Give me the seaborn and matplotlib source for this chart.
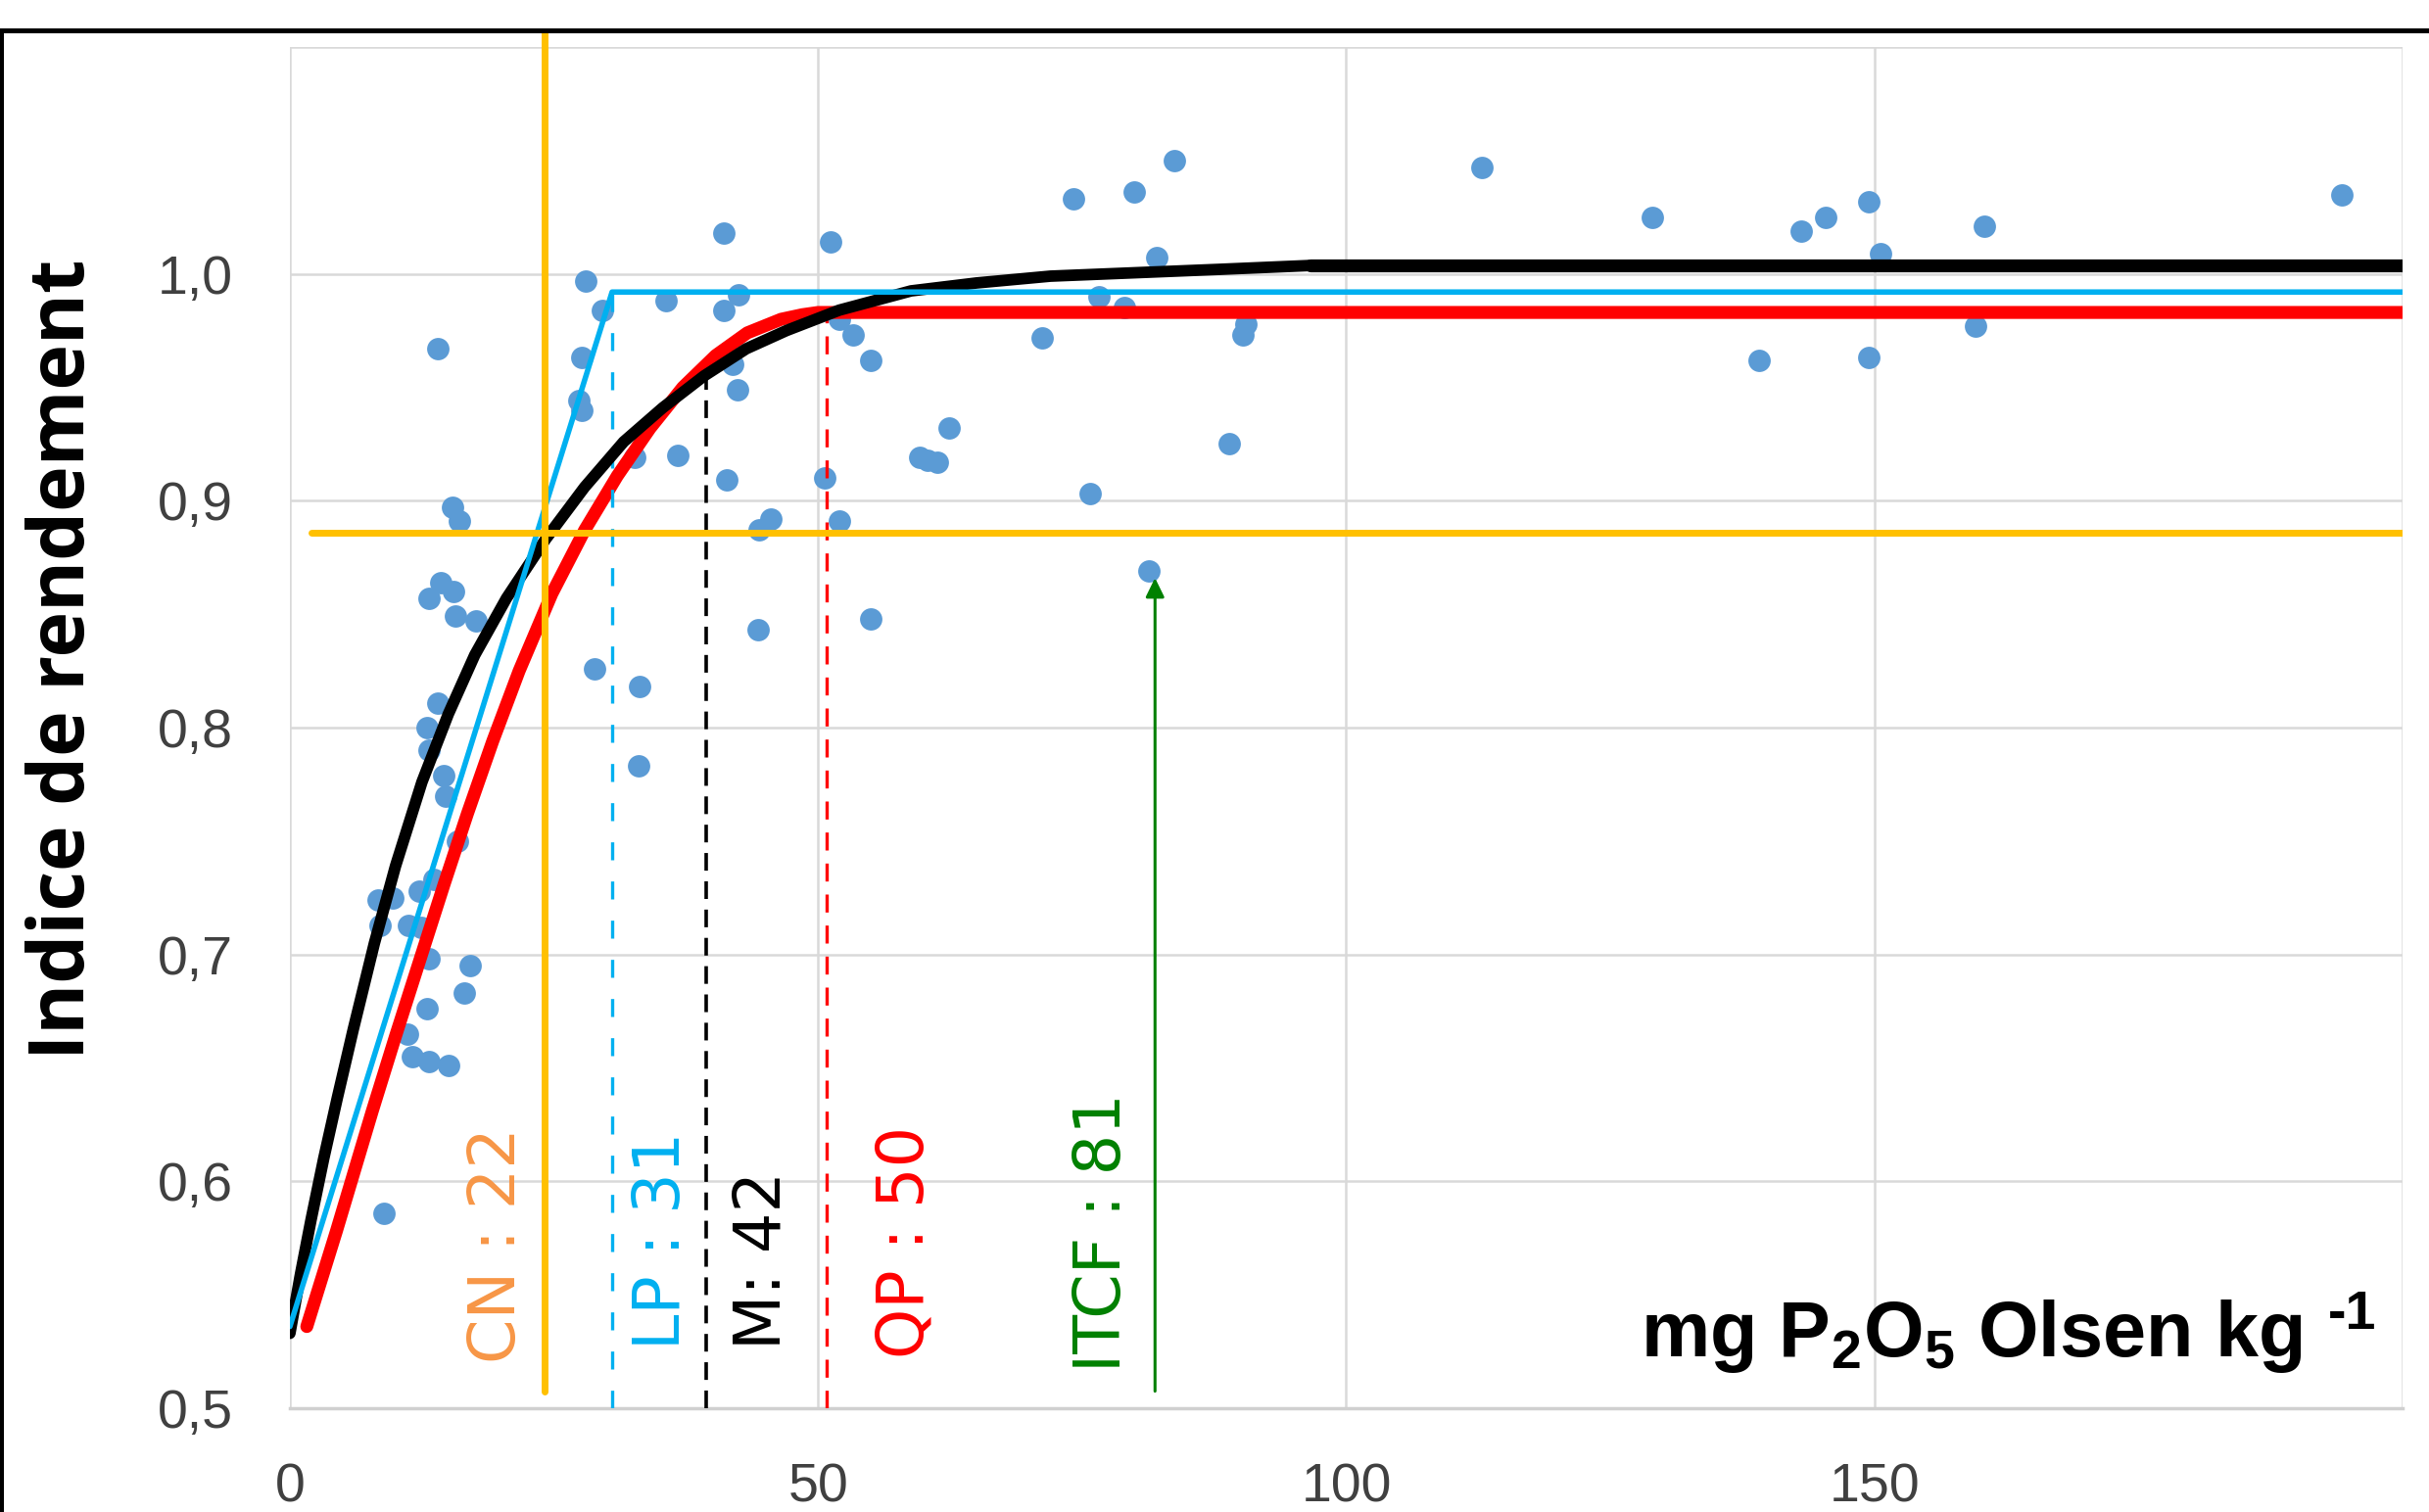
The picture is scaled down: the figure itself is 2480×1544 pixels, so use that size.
import matplotlib
matplotlib.use("Agg")
import matplotlib.pyplot as plt
from matplotlib.patches import Rectangle
import seaborn as sns

# observed points: P2O5 Olsen (mg/kg) vs yield index
p_olsen = [14.0, 15.4, 16.0, 14.3, 13.2, 15.5, 15.7, 17.6, 14.0, 13.0,
           13.2, 14.6, 14.7, 15.9, 8.3, 9.7, 12.2, 13.6, 8.5, 11.2,
           12.4, 13.2, 17.1, 16.5, 13.0, 11.1, 11.6, 13.2, 15.0, 8.9,
           28.0, 29.6, 27.6, 27.4, 27.6, 35.6, 32.6, 36.7, 28.8, 33.1,
           33.0, 41.1, 42.5, 41.1, 41.9, 42.4, 41.4, 44.4, 45.5, 44.3,
           51.2, 52.0, 53.3, 55.0, 50.6, 52.0, 55.0, 59.6, 60.4, 61.3,
           62.4, 71.2, 74.2, 75.8, 76.6, 79.0, 79.9, 81.3, 82.1, 83.7,
           88.9, 90.2, 90.5, 112.8, 129.0, 139.1, 143.1, 145.4, 149.5, 149.5,
           150.6, 159.6, 160.4, 194.3]
yield_index = [0.967, 0.897, 0.891, 0.864, 0.857, 0.860, 0.849, 0.847, 0.811, 0.800,
               0.790, 0.779, 0.770, 0.750, 0.724, 0.725, 0.728, 0.733, 0.713, 0.713,
               0.712, 0.698, 0.695, 0.683, 0.676, 0.665, 0.655, 0.653, 0.651, 0.586,
               0.997, 0.984, 0.963, 0.944, 0.940, 0.988, 0.919, 0.920, 0.826, 0.818,
               0.783, 1.018, 0.991, 0.984, 0.960, 0.949, 0.909, 0.887, 0.892, 0.843,
               1.014, 0.980, 0.973, 0.962, 0.910, 0.891, 0.848, 0.919, 0.918, 0.917,
               0.932, 0.972, 1.033, 0.903, 0.990, 0.985, 1.036, 0.869, 1.007, 1.050,
               0.925, 0.973, 0.978, 1.047, 1.025, 0.962, 1.019, 1.025, 1.032, 0.963,
               1.009, 0.977, 1.021, 1.035]

# fitted models
mitsch_x = [0, 1.0, 2.0, 3.2, 4.5, 6.0, 8.0, 10.0, 12.5, 15.0, 17.5, 20.5, 24.2,
            27.9, 31.6, 35.3, 39.2, 43.2, 47.0, 52.0, 58.8, 65.0, 72.0, 80.0, 88.0, 96.6]
mitsch_y = [0.533, 0.559, 0.583, 0.610, 0.637, 0.667, 0.705, 0.739, 0.776, 0.806,
            0.832, 0.857, 0.883, 0.906, 0.926, 0.941, 0.955, 0.967, 0.975, 0.984,
            0.9925, 0.996, 0.999, 1.0005, 1.002, 1.0037]
mitsch_plateau_x = [96.6, 200]
mitsch_plateau_y = [1.0037, 1.0037]

quad_x = [1.6, 4.4, 7.8, 10.0, 12.4, 14.6, 16.8, 19.2, 21.7, 24.8, 27.9, 31.0,
          34.1, 37.2, 40.3, 43.3, 46.5, 48.5, 50.0, 200]
quad_y = [0.536, 0.578, 0.631, 0.664, 0.699, 0.731, 0.762, 0.794, 0.825, 0.859,
          0.887, 0.911, 0.932, 0.950, 0.964, 0.974, 0.980, 0.982, 0.983, 0.983]

lin_x = [0, 30.5, 200]
lin_y = [0.536, 0.992, 0.992]

# Cate-Nelson split
cn_x = 24.1
cn_y = 0.886

# critical values: (x, top of the marker line)
lp_crit = (30.5, 0.992)
m_crit = (39.4, 0.955)
qp_crit = (50.8, 0.983)
itcf_crit = (81.9, 0.866)

labels = ["CN : 22", "LP : 31", "M: 42", "QP : 50", "ITCF : 81"]
label_colors = ["#F79646", "#00B0F0", "black", "#FF0000", "#008000"]
label_x = [19.7, 35.2, 44.7, 58.3, 77.0]
label_y = [0.520, 0.526, 0.526, 0.522, 0.516]

x_ticks = [0, 50, 100, 150, 200]
y_ticks = [0.5, 0.6, 0.7, 0.8, 0.9, 1.0, 1.1]

sns.set_theme(style="white")
plt.rcParams["font.family"] = ["Liberation Sans", "DejaVu Sans"]
plt.rcParams["mathtext.fontset"] = "custom"
plt.rcParams["mathtext.rm"] = "Liberation Sans:bold"
plt.rcParams["mathtext.it"] = "Liberation Sans:bold"
plt.rcParams["mathtext.bf"] = "Liberation Sans:bold"

fig = plt.figure(figsize=(24.8, 15.44), dpi=100)
ax = fig.add_axes([0.11935, 0.06865, 0.86975, 0.90025])

sns.scatterplot(x=p_olsen, y=yield_index, ax=ax, s=270, color="#5B9BD5",
                linewidth=0, zorder=2, legend=False)

sns.lineplot(x=quad_x, y=quad_y, ax=ax, color="#FF0000", linewidth=9.5,
             sort=False, estimator=None, zorder=3)
sns.lineplot(x=mitsch_x, y=mitsch_y, ax=ax, color="black", linewidth=8.5,
             sort=False, estimator=None, zorder=4)
sns.lineplot(x=mitsch_plateau_x, y=mitsch_plateau_y, ax=ax, color="black",
             linewidth=9.5, sort=False, estimator=None, zorder=4)
sns.lineplot(x=lin_x, y=lin_y, ax=ax, color="#00B0F0", linewidth=4,
             sort=False, estimator=None, zorder=5)

# critical level markers
ax.plot([lp_crit[0]] * 2, [0.5, lp_crit[1]], color="#00B0F0", lw=2.4,
        ls=(0, (5.5, 6.5)), zorder=3.5)
ax.plot([m_crit[0]] * 2, [0.5, m_crit[1]], color="black", lw=2.6,
        ls=(0, (5, 3)), zorder=3.5)
ax.plot([qp_crit[0]] * 2, [0.5, qp_crit[1]], color="#FF0000", lw=2.4,
        ls=(0, (5.5, 4)), zorder=3.5)
ax.annotate("", xy=itcf_crit, xytext=(itcf_crit[0], 0.5075),
            arrowprops=dict(arrowstyle="-|>,head_length=0.45,head_width=0.22",
                            color="#008000", lw=2.2, mutation_scale=26,
                            shrinkA=0, shrinkB=0), zorder=3.5)

ax.axvline(cn_x, ymin=0.0125, ymax=1.011, color="#FFC000", lw=5, zorder=6, clip_on=False)
ax.axhline(cn_y, xmin=0.01, xmax=1.0, color="#FFC000", lw=5, zorder=6)

for txt, col, lx, ly in zip(labels, label_colors, label_x, label_y):
    ax.text(lx, ly, txt, rotation=90, ha="center", va="bottom", color=col,
            fontsize=47, family="DejaVu Sans", zorder=7)

ax.set_xlim(0, 200)
ax.set_ylim(0.5, 1.1)
ax.set_xticks(x_ticks)
ax.set_yticks(y_ticks)
ax.set_xticklabels([str(t) if t < 200 else "" for t in x_ticks])
ax.set_yticklabels([f"{t:.1f}".replace(".", ",") if t < 1.05 else "" for t in y_ticks])
ax.tick_params(axis="both", length=0, labelsize=40, labelcolor="#404040")
ax.tick_params(axis="x", pad=40)
ax.tick_params(axis="y", pad=42)
ax.grid(True, color="#D9D9D9", lw=1.8)
ax.set_axisbelow(True)
for side in ["top", "right", "left"]:
    ax.spines[side].set_visible(False)
ax.spines["bottom"].set_color("#D0D0D0")
ax.spines["bottom"].set_linewidth(2.5)
ax.set_xlabel("")
ax.set_ylabel("")

fig.text(66 / 2480, 1 - 673 / 1544, "Indice de rendement", rotation=90,
         ha="center", va="center", fontsize=57, fontweight="bold",
         family=["Open Sans", "DejaVu Sans"], color="black")
fig.text(2350 / 2480, 1 - 1385 / 1544, r"mg P$_2$O$_5$ Olsen kg",
         ha="right", va="baseline", fontsize=57, fontweight="bold", color="black")
fig.text(2377 / 2480, 1 - 1357 / 1544, "-1",
         ha="left", va="baseline", fontsize=40, fontweight="bold", color="black")

# outer chart frame
fig.patches.append(Rectangle((0.0006, -0.5), 2, 1.48, transform=fig.transFigure,
                             fill=False, ec="black", lw=3.6, zorder=10))

fig.savefig("out.png", dpi=100)
